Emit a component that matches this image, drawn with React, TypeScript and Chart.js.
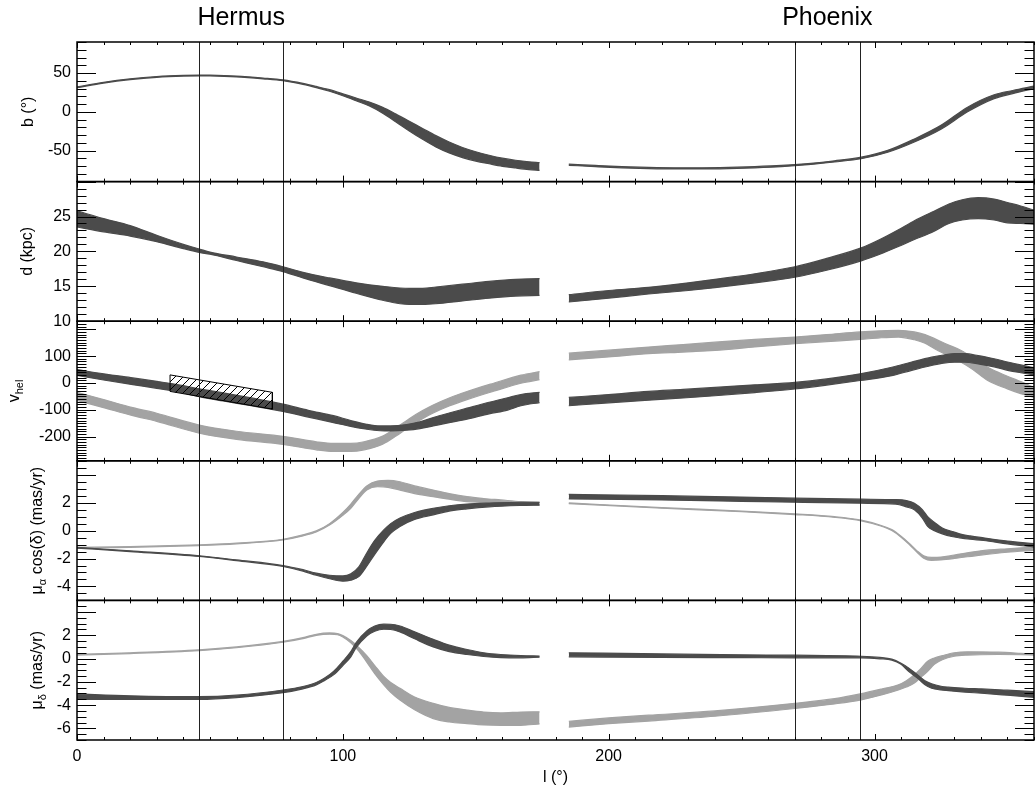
import React, { useEffect, useRef } from 'react';
import { Chart, registerables } from 'chart.js';

Chart.register(...registerables);

const FONT = '"Liberation Sans", Arial, Helvetica, sans-serif';
const DARK = '#4b4b4b';
const LIGHT = '#a3a3a3';

// ---------- axes ----------
const xTickLabels = [0, 100, 200, 300];
const markerL = [46, 77.5, 270, 294.5];
const streamNames = ['Hermus', 'Phoenix'];
const streamTitleL = [61.75, 282.25];

const bTickLabels = [-50, 0, 50];
const dTickLabels = [10, 15, 20, 25];
const vTickLabels = [-200, -100, 0, 100];
const aTickLabels = [-4, -2, 0, 2];
const mTickLabels = [-6, -4, -2, 0, 2];

// ---------- panel b ----------
const hermB_l = [0, 10, 20, 30, 40, 46, 50, 60, 70, 77.5, 85, 90, 95, 100, 105, 110, 115, 120, 125, 130, 135, 140, 145, 150, 155, 160, 165, 170, 174];
const hermB_hi = [32, 38, 42.5, 45.5, 47, 47.3, 47.2, 46, 43.5, 41.1, 36.6, 32.75, 28.5, 23.25, 17.75, 12.5, 5.75, -3, -12.25, -21.5, -30.75, -39, -46, -51.5, -56, -59.75, -62.5, -64.5, -65.5];
const hermB_lo = [31, 37, 41.5, 44.5, 46, 46.3, 46.2, 45, 42.5, 40.1, 35.4, 31.25, 26.5, 20.75, 14.25, 7.5, -1.75, -13, -24.75, -35.5, -45.25, -53, -59, -63.5, -67, -70.25, -72.5, -74.5, -75.5];
const phoeB_l = [185, 195, 205, 215, 225, 235, 245, 255, 265, 275, 285, 295, 305, 315, 325, 335, 345, 352, 360];
const phoeB_hi = [-67.5, -69.2, -70.7, -71.7, -72.2, -72.2, -71.7, -70.7, -69.2, -66.7, -63.2, -58.5, -49.7, -35, -17.5, 6, 22, 27.5, 33];
const phoeB_lo = [-69, -70.7, -72.2, -73.2, -73.7, -73.7, -73.2, -72.2, -70.7, -68.2, -64.7, -60.5, -52.2, -39, -22.5, 0, 17, 23.5, 30];

// ---------- panel d ----------
const hermD_l = [0, 10, 20, 30, 40, 46, 50, 60, 70, 77.5, 85, 95, 105, 115, 125, 130, 135, 145, 155, 165, 174];
const hermD_hi = [25.8, 24.7, 23.7, 22.3, 21, 20.35, 19.9, 19.2, 18.5, 17.8, 17.0, 16.2, 15.5, 15.0, 14.7, 14.7, 14.9, 15.3, 15.7, 16.0, 16.1];
const hermD_lo = [23.5, 22.8, 22.2, 21.4, 20.4, 19.85, 19.6, 18.7, 17.8, 17.1, 16.2, 15.1, 14.0, 13.0, 12.4, 12.4, 12.5, 12.9, 13.3, 13.6, 13.7];
const phoeD_l = [185, 200, 215, 230, 240, 255, 270, 282, 295, 302, 309, 315, 321.5, 328, 333, 339, 345, 350, 355, 360];
const phoeD_hi = [13.8, 14.4, 14.85, 15.5, 16.0, 16.8, 17.8, 19.0, 20.5, 21.7, 23.1, 24.4, 25.6, 26.8, 27.4, 27.7, 27.5, 27.0, 26.5, 25.9];
const phoeD_lo = [12.75, 13.3, 13.9, 14.4, 14.8, 15.5, 16.3, 17.3, 18.65, 19.6, 20.7, 21.7, 22.7, 24.0, 24.5, 24.7, 24.5, 24.1, 24.0, 23.9];

// ---------- panel v_hel ----------
const hermVd_l = [0, 10, 21, 30, 40, 46, 55, 65, 77.5, 87, 96.5, 103, 109, 114, 118, 124, 129, 134, 140, 146.7, 155, 162, 167, 174];
const hermVd_hi = [50, 34, 18.7, 6, -10, -22, -37, -55, -79, -102, -122, -140, -154, -160, -160, -155, -145, -129, -112, -94, -72, -55, -43, -35];
const hermVd_lo = [28, 11, -6.4, -20, -37, -51, -67, -84, -106, -127, -148, -162, -172.5, -178, -179, -176, -170, -160, -148, -135, -115, -101, -85, -73];
const hermVl_l = [0, 10, 21, 30, 46, 60, 77.5, 90, 96.5, 103, 108, 115, 120, 125, 130, 134, 140, 146.7, 156.7, 167, 174];
const hermVl_hi = [-35, -62, -92, -113, -157, -180, -199, -219, -225, -225, -219, -198, -168, -133, -103, -82, -56, -32, -1, 29, 42];
const hermVl_lo = [-65, -92, -122, -143, -187, -210, -229, -249, -255, -255, -249, -228, -198, -163, -133, -112, -86, -62, -31, -1, 12];
const phoeVd_l = [185, 200, 215, 228, 240, 255, 270, 282, 294.6, 306.5, 314, 321.5, 326, 330, 334, 339, 345, 350.5, 355, 360];
const phoeVd_hi = [-54, -43, -31.5, -24, -16.5, -7, 2, 15, 34, 58.5, 78, 96, 104, 109, 109, 102, 90, 77, 67, 57];
const phoeVd_lo = [-85, -74, -64, -56, -47.6, -36, -22.5, -8, 9, 27, 47, 65, 74, 77, 77, 71, 60, 46, 38, 30];
const phoeVl_l = [185, 200, 215, 228, 240, 255, 270, 282, 294.6, 302, 309, 315, 319, 322.6, 327, 332.6, 337, 342.6, 350, 355, 360];
const phoeVl_hi = [111, 122, 133.5, 143, 152, 162, 171, 180, 190, 194, 196, 190, 180, 165, 145, 121, 95, 58.5, 25, 5, -16.5];
const phoeVl_lo = [86, 97, 109, 115, 121, 134, 146, 154, 162, 168, 171, 161, 148, 127.5, 105, 77, 50, 9, -22, -40, -54];
const hatchL = [35, 73.5, 73.5, 35, 35];
const hatchV = [30, -35, -97.5, -31.5, 30];

// ---------- panel mu_alpha cos(delta) ----------
const hermAd_l = [0, 20, 46, 60, 77.5, 85, 90, 95, 100, 103, 106, 109, 112, 115.4, 118, 121.5, 127, 134, 140, 146.7, 155, 167, 174];
const hermAd_hi = [-1.2, -1.45, -1.8, -2.1, -2.5, -2.8, -3.05, -3.2, -3.25, -3.1, -2.6, -1.6, -0.7, 0.05, 0.5, 0.9, 1.3, 1.6, 1.78, 1.9, 1.97, 2.03, 2.03];
const hermAd_lo = [-1.25, -1.5, -1.85, -2.15, -2.57, -2.9, -3.2, -3.45, -3.62, -3.55, -3.3, -2.55, -1.7, -0.8, -0.2, 0.3, 0.8, 1.13, 1.4, 1.56, 1.7, 1.8, 1.83];
const hermAl_l = [0, 20, 46, 60, 77.5, 85, 90, 95, 100, 103, 106, 109, 113, 117, 121.5, 127, 134, 140, 146.7, 153, 159.4, 167, 174];
const hermAl_hi = [-1.2, -1.15, -1.02, -0.9, -0.62, -0.3, -0.02, 0.5, 1.3, 1.9, 2.6, 3.2, 3.55, 3.6, 3.5, 3.2, 2.9, 2.65, 2.43, 2.3, 2.2, 2.08, 2.03];
const hermAl_lo = [-1.25, -1.2, -1.07, -0.95, -0.67, -0.38, -0.1, 0.4, 1.1, 1.6, 2.3, 2.9, 3.14, 3.1, 2.9, 2.65, 2.43, 2.25, 2.08, 2.0, 1.9, 1.84, 1.83];
const phoeAd_l = [185, 220, 250, 270, 295, 308, 312, 315, 318, 320, 322.5, 325.5, 329, 332, 336, 341, 350, 360];
const phoeAd_hi = [2.6, 2.5, 2.4, 2.32, 2.25, 2.22, 2.15, 1.96, 1.5, 1.0, 0.6, 0.19, -0.05, -0.23, -0.38, -0.52, -0.75, -0.94];
const phoeAd_lo = [2.27, 2.2, 2.1, 2.03, 1.96, 1.9, 1.7, 1.49, 0.9, 0.3, 0.0, -0.23, -0.42, -0.52, -0.62, -0.71, -0.95, -1.18];
const phoeAl_l = [185, 220, 250, 270, 285, 295, 302, 306.5, 310, 313, 316, 318.5, 321.5, 325, 330, 340, 350, 360];
const phoeAl_hi = [1.98, 1.65, 1.4, 1.2, 1.0, 0.75, 0.4, 0.07, -0.4, -0.9, -1.45, -1.8, -1.92, -1.9, -1.75, -1.45, -1.3, -1.18];
const phoeAl_lo = [1.93, 1.6, 1.35, 1.15, 0.95, 0.7, 0.35, 0.0, -0.47, -0.98, -1.55, -1.98, -2.13, -2.1, -2.0, -1.75, -1.55, -1.42];

// ---------- panel mu_delta ----------
const hermMd_l = [0, 20, 46, 60, 77.5, 85, 90, 93, 96.5, 100, 103, 105, 109, 112, 115.4, 118, 121.5, 127, 134, 140, 146.7, 153, 159.4, 167, 174];
const hermMd_hi = [-3.04, -3.2, -3.28, -3.15, -2.7, -2.4, -2.06, -1.7, -1.1, -0.23, 0.6, 1.37, 2.37, 2.8, 2.96, 2.95, 2.8, 2.3, 1.65, 1.15, 0.78, 0.5, 0.35, 0.26, 0.22];
const hermMd_lo = [-3.5, -3.5, -3.5, -3.35, -2.93, -2.6, -2.26, -1.9, -1.4, -0.6, 0.15, 0.93, 1.94, 2.35, 2.52, 2.5, 2.29, 1.7, 1.0, 0.6, 0.35, 0.18, 0.08, 0.06, 0.12];
const hermMl_l = [0, 20, 46, 60, 77.5, 85, 90, 95, 98, 100, 103, 106, 109, 112, 115.4, 118, 121.5, 127, 134, 140, 146.7, 153, 159.4, 167, 174];
const hermMl_hi = [0.37, 0.5, 0.75, 1.0, 1.47, 1.8, 2.09, 2.2, 2.15, 1.97, 1.55, 0.95, 0.25, -0.6, -1.54, -2.05, -2.55, -3.3, -3.85, -4.2, -4.43, -4.6, -4.67, -4.6, -4.58];
const hermMl_lo = [0.3, 0.43, 0.68, 0.93, 1.4, 1.72, 2.0, 2.1, 2.05, 1.85, 1.35, 0.65, -0.3, -1.3, -2.26, -2.9, -3.57, -4.4, -5.16, -5.45, -5.59, -5.7, -5.74, -5.74, -5.62];
const phoeMd_l = [185, 220, 250, 270, 295, 302, 306.5, 310, 312.8, 316.6, 319, 321.5, 325, 327.8, 334, 340.3, 350, 360];
const phoeMd_hi = [0.5, 0.4, 0.32, 0.29, 0.2, 0.1, -0.05, -0.4, -0.8, -1.48, -1.9, -2.17, -2.38, -2.46, -2.55, -2.61, -2.72, -2.84];
const phoeMd_lo = [0.15, 0.1, 0.08, 0.06, 0.06, -0.02, -0.13, -0.5, -1.1, -1.77, -2.25, -2.55, -2.7, -2.76, -2.88, -2.98, -3.15, -3.33];
const phoeMl_l = [185, 200, 215, 240, 270, 285, 294.6, 303, 309, 312, 315, 317.5, 320, 322.5, 325.5, 330, 335, 346.6, 355, 360];
const phoeMl_hi = [-5.39, -5.1, -4.87, -4.5, -3.85, -3.45, -3.04, -2.6, -2.26, -1.9, -1.39, -0.85, -0.23, 0.05, 0.25, 0.5, 0.58, 0.55, 0.45, 0.38];
const phoeMl_lo = [-5.89, -5.6, -5.37, -4.96, -4.29, -3.9, -3.57, -3.1, -2.7, -2.45, -2.1, -1.6, -1.1, -0.5, -0.1, 0.2, 0.3, 0.35, 0.33, 0.3];

type Piece = [string, boolean];
const PANELS: { id: string; min: number; max: number; major: number; minor: number; labels: number[]; weight: number; title: Piece[]; titleX: number }[] = [
  { id: 'yB', min: -90, max: 90, major: 50, minor: 10, labels: bTickLabels, weight: 5, title: [['b (°)', false]], titleX: 33 },
  { id: 'yD', min: 10, max: 30, major: 5, minor: 1, labels: dTickLabels, weight: 4, title: [['d (kpc)', false]], titleX: 32 },
  { id: 'yV', min: -290, max: 230, major: 100, minor: 10, labels: vTickLabels, weight: 3, title: [['v', false], ['hel', true]], titleX: 19 },
  { id: 'yA', min: -5, max: 5, major: 2, minor: 0.5, labels: aTickLabels, weight: 2, title: [['μ', false], ['α', true], [' cos(δ) (mas/yr)', false]], titleX: 42 },
  { id: 'yM', min: -7, max: 5, major: 2, minor: 0.5, labels: mTickLabels, weight: 1, title: [['μ', false], ['δ', true], [' (mas/yr)', false]], titleX: 42 },
];

function band(l: number[], hi: number[], lo: number[], color: string, axis: string) {
  const common = {
    yAxisID: axis,
    borderColor: color,
    backgroundColor: color,
    borderWidth: 1.2,
    pointRadius: 0,
    cubicInterpolationMode: 'monotone' as const,
  };
  return [
    { ...common, data: l.map((x, i) => ({ x, y: hi[i] })), fill: '+1' },
    { ...common, data: l.map((x, i) => ({ x, y: lo[i] })), fill: false },
  ];
}

function drawRotTitle(ctx: CanvasRenderingContext2D, pieces: Piece[], x: number, yc: number) {
  const base = `16px ${FONT}`;
  const sub = `11px ${FONT}`;
  const widths = pieces.map(([t, s]) => {
    ctx.font = s ? sub : base;
    return ctx.measureText(t).width;
  });
  const total = widths.reduce((a, b) => a + b, 0);
  ctx.save();
  ctx.translate(x, yc);
  ctx.rotate(-Math.PI / 2);
  ctx.textAlign = 'left';
  ctx.textBaseline = 'alphabetic';
  ctx.fillStyle = '#000';
  let cx = -total / 2;
  pieces.forEach(([t, s], i) => {
    ctx.font = s ? sub : base;
    ctx.fillText(t, cx, s ? 4 : 0);
    cx += widths[i];
  });
  ctx.restore();
}

const panelPlugin = {
  id: 'panelFrames',
  afterDatasetsDraw(chart: any) {
    const ctx: CanvasRenderingContext2D = chart.ctx;
    const { left, right, top, bottom } = chart.chartArea;
    const xs = chart.scales.x;
    ctx.save();
    ctx.strokeStyle = '#222';
    ctx.lineWidth = 1;
    ctx.beginPath();
    for (const l of markerL) {
      const x = Math.round(xs.getPixelForValue(l)) + 0.5;
      ctx.moveTo(x, top);
      ctx.lineTo(x, bottom);
    }
    ctx.stroke();
    ctx.strokeStyle = '#000';
    ctx.beginPath();
    for (const p of PANELS) {
      const ys = chart.scales[p.id];
      const n = Math.round((p.max - p.min) / p.minor);
      for (let i = 0; i <= n; i++) {
        const v = p.min + i * p.minor;
        const r = v / p.major;
        const isMajor = Math.abs(r - Math.round(r)) < 1e-6;
        const len = isMajor ? 19 : 9.5;
        const y = Math.round(ys.getPixelForValue(v)) + 0.5;
        ctx.moveTo(left, y);
        ctx.lineTo(left + len, y);
        ctx.moveTo(right, y);
        ctx.lineTo(right - len, y);
      }
      for (let v = 0; v <= 360; v += 10) {
        const len = v % 100 === 0 ? 6 : 3;
        const x = Math.round(xs.getPixelForValue(v)) + 0.5;
        ctx.moveTo(x, ys.top);
        ctx.lineTo(x, ys.top + len);
        ctx.moveTo(x, ys.bottom);
        ctx.lineTo(x, ys.bottom - len);
      }
    }
    ctx.stroke();
    ctx.lineWidth = 1.5;
    for (const p of PANELS) {
      const ys = chart.scales[p.id];
      ctx.strokeRect(left, ys.top, right - left, ys.bottom - ys.top);
    }
    ctx.restore();
  },
  afterDraw(chart: any) {
    const ctx: CanvasRenderingContext2D = chart.ctx;
    const xs = chart.scales.x;
    ctx.save();
    ctx.fillStyle = '#000';
    ctx.textAlign = 'center';
    ctx.textBaseline = 'middle';
    ctx.font = `25px ${FONT}`;
    streamNames.forEach((name, i) => {
      ctx.fillText(name, xs.getPixelForValue(streamTitleL[i]), 18);
    });
    ctx.restore();
    for (const p of PANELS) {
      const ys = chart.scales[p.id];
      drawRotTitle(ctx, p.title, p.titleX, (ys.top + ys.bottom) / 2);
    }
  },
};

export default function App() {
  const ref = useRef<HTMLCanvasElement>(null);
  useEffect(() => {
    const canvas = ref.current!;
    const ctx = canvas.getContext('2d')!;
    const pc = document.createElement('canvas');
    pc.width = 8;
    pc.height = 8;
    const g = pc.getContext('2d')!;
    g.strokeStyle = '#000';
    g.lineWidth = 1;
    g.beginPath();
    g.moveTo(-1, 9); g.lineTo(9, -1);
    g.moveTo(-1, 1); g.lineTo(1, -1);
    g.moveTo(7, 9); g.lineTo(9, 7);
    g.stroke();
    const hatch = ctx.createPattern(pc, 'repeat');

    const datasets: any[] = [
      {
        yAxisID: 'yV',
        data: hatchL.map((x, i) => ({ x, y: hatchV[i] })),
        borderColor: '#000',
        borderWidth: 1,
        backgroundColor: hatch,
        fill: 'shape',
        pointRadius: 0,
        tension: 0,
      },
      ...band(hermB_l, hermB_hi, hermB_lo, DARK, 'yB'),
      ...band(phoeB_l, phoeB_hi, phoeB_lo, DARK, 'yB'),
      ...band(hermD_l, hermD_hi, hermD_lo, DARK, 'yD'),
      ...band(phoeD_l, phoeD_hi, phoeD_lo, DARK, 'yD'),
      ...band(hermVd_l, hermVd_hi, hermVd_lo, DARK, 'yV'),
      ...band(phoeVd_l, phoeVd_hi, phoeVd_lo, DARK, 'yV'),
      ...band(hermAd_l, hermAd_hi, hermAd_lo, DARK, 'yA'),
      ...band(phoeAd_l, phoeAd_hi, phoeAd_lo, DARK, 'yA'),
      ...band(hermMd_l, hermMd_hi, hermMd_lo, DARK, 'yM'),
      ...band(phoeMd_l, phoeMd_hi, phoeMd_lo, DARK, 'yM'),
      ...band(hermVl_l, hermVl_hi, hermVl_lo, LIGHT, 'yV'),
      ...band(phoeVl_l, phoeVl_hi, phoeVl_lo, LIGHT, 'yV'),
      ...band(hermAl_l, hermAl_hi, hermAl_lo, LIGHT, 'yA'),
      ...band(phoeAl_l, phoeAl_hi, phoeAl_lo, LIGHT, 'yA'),
      ...band(hermMl_l, hermMl_hi, hermMl_lo, LIGHT, 'yM'),
      ...band(phoeMl_l, phoeMl_hi, phoeMl_lo, LIGHT, 'yM'),
    ];

    const scales: any = {
      x: {
        type: 'linear',
        position: 'bottom',
        min: 0,
        max: 360,
        grid: { display: false, drawTicks: false },
        border: { display: false },
        ticks: {
          autoSkip: false,
          maxRotation: 0,
          padding: 7,
          color: '#000',
          font: { family: FONT, size: 16 },
          callback: (v: any) => String(v),
        },
        afterBuildTicks: (s: any) => { s.ticks = xTickLabels.map((v) => ({ value: v })); },
        title: { display: true, text: 'l (°)', color: '#000', font: { family: FONT, size: 16 }, padding: { top: 0, bottom: 6 } },
        afterFit: (s: any) => { s.height = 53; },
      },
    };
    for (const p of PANELS) {
      scales[p.id] = {
        type: 'linear',
        position: 'left',
        stack: 'panels',
        stackWeight: 1,
        weight: p.weight,
        min: p.min,
        max: p.max,
        grid: { display: false, drawTicks: false },
        border: { display: false },
        ticks: {
          autoSkip: false,
          padding: 6,
          color: '#000',
          font: { family: FONT, size: 16 },
          callback: (v: any) => String(v),
        },
        afterBuildTicks: (s: any) => { s.ticks = p.labels.map((v) => ({ value: v })); },
        afterFit: (s: any) => { s.width = 77; },
      };
    }

    const chart = new Chart(canvas, {
      type: 'line',
      data: { datasets },
      options: {
        responsive: false,
        animation: false,
        events: [],
        layout: { padding: { top: 42, right: 2, left: 0, bottom: 0 } },
        plugins: { legend: { display: false }, tooltip: { enabled: false } },
        scales,
      },
      plugins: [panelPlugin],
    } as any);
    return () => chart.destroy();
  }, []);

  return (
    <div style={{ position: 'fixed', left: 0, top: 0, width: 1036, height: 793, background: '#fff' }}>
      <canvas ref={ref} width={1036} height={793} style={{ display: 'block' }} />
    </div>
  );
}
